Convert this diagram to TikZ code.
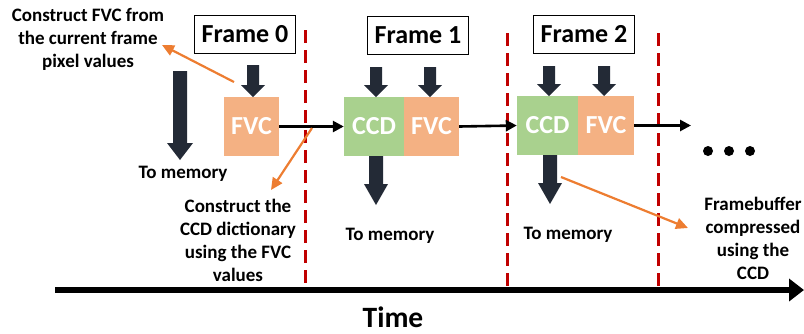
\documentclass[tikz,border=0pt]{standalone}
\usepackage{fontspec}
\setmainfont{Carlito}
\usetikzlibrary{arrows.meta}
\definecolor{fvcc}{RGB}{244,177,131}
\definecolor{ccdc}{RGB}{169,209,142}
\definecolor{darkc}{RGB}{35,42,54}
\definecolor{orangec}{RGB}{237,125,49}
\definecolor{redc}{RGB}{192,0,0}
\tikzset{
  framebox/.style={draw=black, line width=1pt, minimum width=101pt, minimum height=38pt, inner sep=0pt, font=\bfseries\fontsize{26}{28}\selectfont},
  fvcbox/.style={fill=fvcc, minimum height=59pt, inner sep=0pt, text=white, font=\bfseries\fontsize{26}{28}\selectfont},
  ccdbox/.style={fill=ccdc, minimum height=59pt, inner sep=0pt, text=white, font=\bfseries\fontsize{26}{28}\selectfont},
  lab/.style={align=center, inner sep=0pt, font=\bfseries\fontsize{19}{23}\selectfont},
  flow/.style={line width=2.6pt, -{Triangle[length=11pt,width=11pt]}},
  note/.style={draw=orangec, line width=2.2pt, -{Triangle[length=12pt,width=11pt]}},
  divider/.style={draw=redc, line width=3pt, dash pattern=on 13pt off 7pt},
}
\newcommand{\fatdown}[6]{%
  \fill[darkc] ({#1-#4/2},#2) -- ({#1+#4/2},#2) -- ({#1+#4/2},{#3-#6}) -- ({#1+#5/2},{#3-#6})
    -- (#1,#3) -- ({#1-#5/2},{#3-#6}) -- ({#1-#4/2},{#3-#6}) -- cycle;}
\begin{document}
\begin{tikzpicture}[x=1pt,y=-1pt]
\useasboundingbox (0,0) rectangle (804,333);
% dividers
\draw[divider] (305,30) -- (305,288);
\draw[divider] (507,33) -- (507,288);
\draw[divider] (658,33) -- (658,286);
% frames
\node[framebox] (f0) at (245,34) {Frame 0};
\node[framebox] (f1) at (418,35) {Frame 1};
\node[framebox] (f2) at (584,34.5) {Frame 2};
% boxes
\node[fvcbox, minimum width=55pt] (fvc0) at (251.5,126.5) {FVC};
\node[ccdbox, minimum width=60pt] (ccd1) at (374,126.5) {CCD};
\node[fvcbox, minimum width=55pt] (fvc1) at (431.5,126.5) {FVC};
\node[ccdbox, minimum width=61pt] (ccd2) at (547.5,125.5) {CCD};
\node[fvcbox, minimum width=56pt] (fvc2) at (606,125.5) {FVC};
% fat arrows
\fatdown{253}{65}{97}{12}{24}{12}
\fatdown{376}{67}{97}{12}{24}{12}
\fatdown{430}{67}{97}{12}{24}{12}
\fatdown{549}{66}{96}{12}{24}{12}
\fatdown{604}{66}{96}{12}{24}{12}
\fatdown{180}{71}{160}{14}{26}{17}
\fatdown{376}{156}{205}{14}{24}{21}
\fatdown{550}{155}{204}{14}{24}{21}
% flow arrows
\coordinate (more) at (691,125.5);
\draw[flow] (fvc0.east) -- (ccd1.west);
\draw[flow] (fvc1.east) -- (ccd2.west);
\draw[flow] (fvc2.east) -- (more);
\fill (708,151) circle (5pt) (729,151) circle (5pt) (750,151) circle (5pt);
% time axis
\coordinate (t0) at (55,290);
\coordinate (t1) at (804,290);
\draw[line width=6pt, -{Triangle[length=15pt,width=22pt]}] (t0) -- (t1);
\node[font=\bfseries\fontsize{29.5}{32}\selectfont, anchor=base] (time) at (393,327) {Time};
% labels
\node[lab] (l1) at (88,39) {Construct FVC from\\the current frame\\pixel values};
\node[lab] (l2) at (238,240) {Construct the\\CCD dictionary\\using the FVC\\values};
\node[lab] (l3) at (753,238) {Framebuffer\\compressed\\using the\\CCD};
\node[lab] (m0) at (183,174) {To memory};
\node[lab] (m1) at (390,236) {To memory};
\node[lab] (m2) at (568,235) {To memory};
% notes
\coordinate (a1s) at (234,82);
\coordinate (a1e) at (162,45);
\coordinate (a2s) at (312,128);
\coordinate (a2e) at (271,190);
\coordinate (a3s) at (561,177);
\coordinate (a3e) at (688,228);
\draw[note] (a1s) -- (a1e);
\draw[note] (a2s) -- (a2e);
\draw[note] (a3s) -- (a3e);
\end{tikzpicture}
\end{document}
